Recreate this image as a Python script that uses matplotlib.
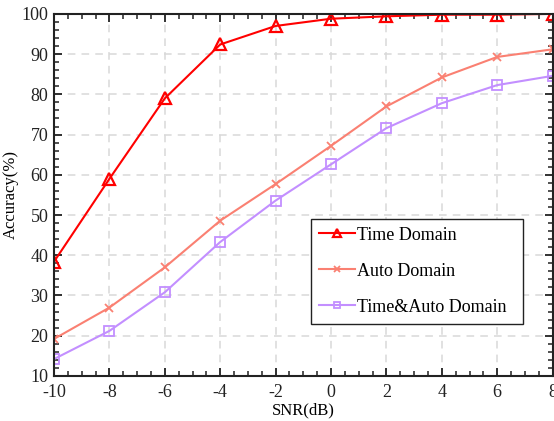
import matplotlib
matplotlib.use('Agg')
import matplotlib.pyplot as plt
from matplotlib.ticker import MultipleLocator

snr = [-10, -8, -6, -4, -2, 0, 2, 4, 6, 8]
time_domain = [38.4, 59.0, 79.0, 92.4, 97.0, 98.8, 99.4, 99.8, 99.8, 100.0]
auto_domain = [19.2, 27.0, 37.0, 48.6, 57.7, 67.2, 77.0, 84.2, 89.3, 91.2]
time_auto_domain = [14.2, 21.2, 30.8, 43.3, 53.6, 62.6, 71.6, 77.8, 82.3, 84.6]

plt.rcParams['font.family'] = ['Liberation Serif', 'DejaVu Serif']
plt.rcParams['axes.unicode_minus'] = False

fig = plt.figure(figsize=(5.54, 4.21), dpi=100)
ax = fig.add_axes([0.0975, 0.107, 0.9, 0.86])

ax.plot(snr, time_domain, '-^', color='#ff0000', lw=1.5, ms=9,
        mfc='none', mew=1.6, label='Time Domain')
ax.plot(snr, auto_domain, '-x', color='#fa8072', lw=1.5, ms=6,
        mew=1.3, label='Auto Domain')
ax.plot(snr, time_auto_domain, '-s', color='#c38fff', lw=1.5, ms=7,
        mfc='none', mew=1.3, label='Time&Auto Domain')

ax.set_xlim(-10, 8)
ax.set_ylim(10, 100)
ax.xaxis.set_major_locator(MultipleLocator(2))
ax.xaxis.set_minor_locator(MultipleLocator(0.5))
ax.yaxis.set_major_locator(MultipleLocator(10))
ax.yaxis.set_minor_locator(MultipleLocator(2))
ax.tick_params(which='both', direction='in', top=True, right=True,
               labelsize=13, colors='#222222')
ax.tick_params(axis='x', pad=6)
ax.tick_params(axis='y', pad=4)
ax.tick_params(which='major', length=6, width=1.3)
ax.tick_params(which='minor', length=3.5, width=1.1)
for s in ax.spines.values():
    s.set_linewidth(1.5)
    s.set_color('#222222')

ax.grid(True, which='major', linestyle=(0, (5, 4)), color='#d9d9d9', lw=1.1)
ax.set_xlabel('SNR(dB)', fontsize=12, labelpad=1)
ax.set_ylabel('Accuracy(%)', fontsize=12, labelpad=2)

leg = ax.legend(loc='lower left', bbox_to_anchor=(0.515, 0.144, 0.425, 0.298),
                mode='expand', fontsize=13, fancybox=False, framealpha=1,
                edgecolor='#222222', handlelength=2.0, handletextpad=0.1,
                labelspacing=1.05, borderpad=0.45, borderaxespad=0,
                markerscale=0.7)
leg.get_frame().set_linewidth(1.0)

fig.savefig('out.png', dpi=100)
